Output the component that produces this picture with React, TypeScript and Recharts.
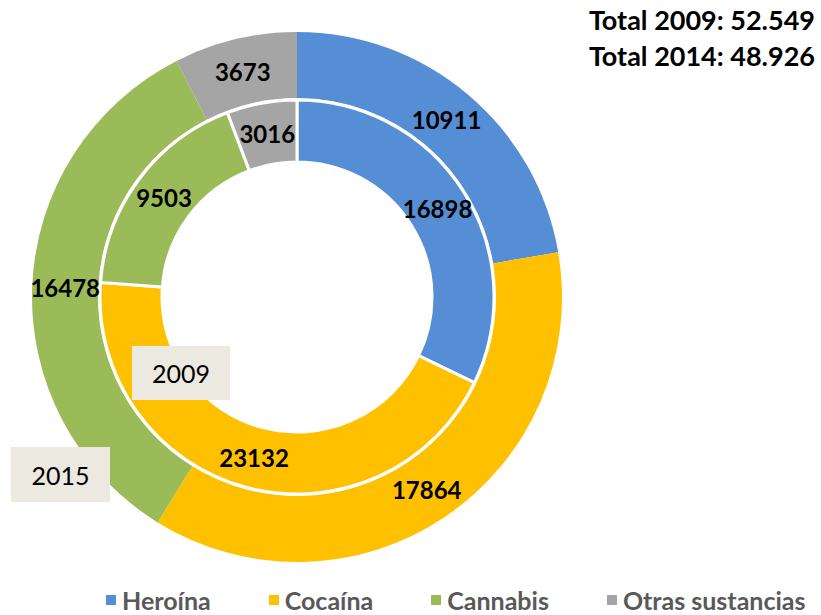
import React from 'react'
import { PieChart, Pie, Cell } from 'recharts'

const categories = ['Heroína', 'Cocaína', 'Cannabis', 'Otras sustancias']
const values2009 = [16898, 23132, 9503, 3016]
const values2014 = [10911, 17864, 16478, 3673]
const colors = ['#558ED5', '#FFC000', '#9BBB59', '#A5A5A5']

const totals = ['Total 2009: 52.549', 'Total 2014: 48.926']

const inner = categories.map((name, i) => ({ name, value: values2009[i] }))
const outer = categories.map((name, i) => ({ name, value: values2014[i] }))

const FONT = 'Lato, "Noto Sans", sans-serif'
const RAD = Math.PI / 180

const renderLabel = (props: any) => {
  const { cx, cy, midAngle, innerRadius, outerRadius, value } = props
  const r = (innerRadius + outerRadius) / 2
  const x = cx + r * Math.cos(-midAngle * RAD)
  const y = cy + r * Math.sin(-midAngle * RAD)
  return (
    <text
      x={x}
      y={y}
      textAnchor='middle'
      dominantBaseline='central'
      fill='#000'
      fontSize={24}
      fontWeight={700}
      fontFamily={FONT}
    >
      {value}
    </text>
  )
}

const boxStyle: React.CSSProperties = {
  position: 'absolute',
  background: '#ECEAE0',
  fontFamily: FONT,
  fontSize: 25,
  color: '#000',
  display: 'flex',
  alignItems: 'center',
  justifyContent: 'center',
}

export default function App() {
  return (
    <div style={{ position: 'absolute', left: 0, top: 0, width: 821, height: 615, background: '#fff' }}>
      <PieChart width={821} height={615} margin={{ top: 0, right: 0, bottom: 0, left: 0 }}>
        <Pie
          data={outer}
          dataKey='value'
          nameKey='name'
          cx={297}
          cy={297}
          innerRadius={199}
          outerRadius={265}
          startAngle={90}
          endAngle={-270}
          stroke='none'
          label={renderLabel}
          labelLine={false}
          isAnimationActive={false}
        >
          {outer.map((d, i) => (
            <Cell key={d.name} fill={colors[i]} />
          ))}
        </Pie>
        <Pie
          data={inner}
          dataKey='value'
          nameKey='name'
          cx={297}
          cy={297}
          innerRadius={135}
          outerRadius={197}
          startAngle={90}
          endAngle={-270}
          stroke='#fff'
          strokeWidth={3}
          label={renderLabel}
          labelLine={false}
          isAnimationActive={false}
        >
          {inner.map((d, i) => (
            <Cell key={d.name} fill={colors[i]} />
          ))}
        </Pie>
      </PieChart>
      <div
        style={{
          position: 'absolute',
          left: 106,
          top: 585,
          display: 'flex',
          gap: 58,
          fontFamily: FONT,
          whiteSpace: 'nowrap',
        }}
      >
        {categories.map((c, i) => (
          <div key={c} style={{ display: 'flex', alignItems: 'center' }}>
            <span style={{ width: 10, height: 10, background: colors[i], marginRight: 6 }} />
            <span style={{ fontSize: 25, fontWeight: 700, color: '#595959', lineHeight: '30px' }}>{c}</span>
          </div>
        ))}
      </div>
      {totals.map((t, i) => (
        <div
          key={t}
          style={{
            position: 'absolute',
            right: 6,
            top: 3 + i * 36,
            fontFamily: FONT,
            fontSize: 27,
            fontWeight: 700,
            color: '#000',
            whiteSpace: 'nowrap',
          }}
        >
          {t}
        </div>
      ))}
      <div style={{ ...boxStyle, left: 132, top: 346, width: 98, height: 54 }}>2009</div>
      <div style={{ ...boxStyle, left: 11, top: 447, width: 99, height: 55 }}>2015</div>
    </div>
  )
}
